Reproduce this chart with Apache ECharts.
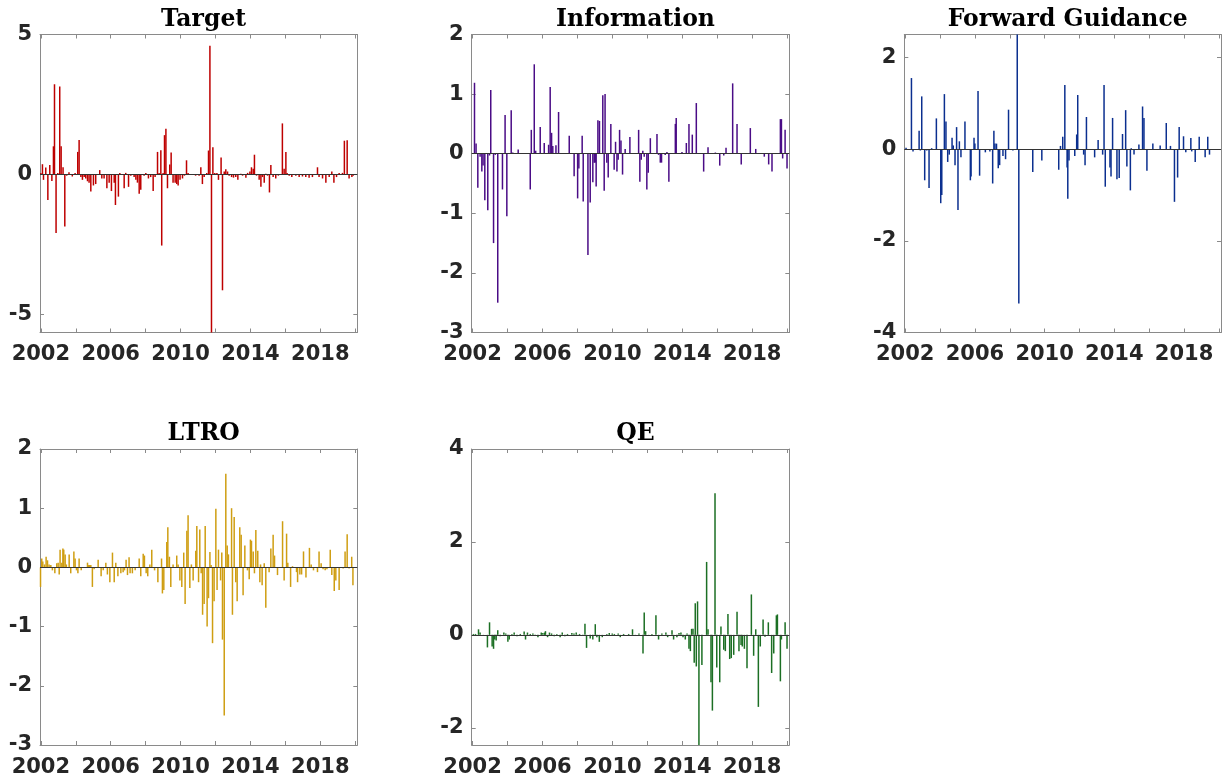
<!DOCTYPE html>
<html>
<head>
<meta charset="utf-8">
<script src="https://cdn.jsdelivr.net/npm/echarts@6/dist/echarts.min.js"></script>
</head>
<body style="margin:0;background:#fff">
<div id="main" style="width:1224px;height:783px;"></div>
<script type="text/javascript">
// shocks per meeting date, [decimal year, value]
var targetData = [
[2002.00,0.05],[2002.09,0.36],[2002.15,-0.2],[2002.28,0.24],[2002.40,-0.92],[2002.51,0.33],[2002.63,-0.24],[2002.72,1.0],[2002.78,3.22],[2002.87,-2.1],[2002.97,0.05],
[2003.08,3.14],[2003.16,1.0],[2003.27,0.25],[2003.37,-1.87],[2003.48,-0.05],[2003.61,0.07],[2003.80,-0.08],[2003.96,0.05],
[2004.11,0.8],[2004.19,1.23],[2004.29,-0.1],[2004.38,-0.2],[2004.48,-0.1],[2004.57,-0.15],[2004.67,-0.25],[2004.76,-0.3],[2004.86,-0.62],
[2005.01,-0.4],[2005.14,-0.35],[2005.37,0.15],[2005.49,-0.15],[2005.62,-0.15],[2005.78,-0.5],[2005.91,-0.3],
[2006.04,-0.6],[2006.20,-0.3],[2006.27,-1.1],[2006.44,-0.8],[2006.52,0.05],[2006.77,-0.5],[2006.86,0.05],
[2007.02,-0.45],[2007.15,-0.05],[2007.34,-0.1],[2007.44,-0.2],[2007.53,-0.3],[2007.63,-0.7],[2007.72,-0.55],[2007.91,-0.05],
[2008.01,0.05],[2008.16,-0.15],[2008.29,-0.1],[2008.43,-0.6],[2008.54,-0.1],[2008.68,0.8],[2008.77,0.05],[2008.87,0.86],[2008.92,-2.55],
[2009.00,0.05],[2009.08,1.4],[2009.16,1.63],[2009.25,-0.5],[2009.38,0.35],[2009.46,0.78],[2009.57,-0.3],[2009.69,-0.3],[2009.78,-0.35],[2009.86,-0.4],[2009.97,-0.2],
[2010.11,-0.15],[2010.22,-0.05],[2010.34,0.5],[2010.43,0.05],[2010.64,-0.02],[2010.86,-0.05],
[2011.06,-0.05],[2011.16,0.25],[2011.25,-0.35],[2011.35,-0.1],[2011.50,0.05],[2011.60,0.85],[2011.68,4.6],[2011.77,-5.66],[2011.85,0.97],[2011.96,0.05],
[2012.08,0.05],[2012.17,-0.2],[2012.32,0.6],[2012.40,-4.15],[2012.50,0.1],[2012.59,0.18],[2012.69,0.1],[2012.78,-0.05],[2012.92,-0.1],
[2013.03,-0.12],[2013.16,-0.1],[2013.28,-0.2],[2013.45,0.02],[2013.55,-0.05],[2013.74,-0.12],[2013.84,0.05],[2013.97,0.1],
[2014.06,0.25],[2014.16,0.2],[2014.23,0.7],[2014.35,-0.05],[2014.50,-0.2],[2014.60,-0.45],[2014.69,-0.1],[2014.79,-0.3],[2014.88,0.02],[2014.98,-0.05],
[2015.09,-0.65],[2015.17,0.33],[2015.30,-0.1],[2015.45,-0.15],[2015.60,-0.05],[2015.83,1.82],[2015.93,0.2],
[2016.03,0.8],[2016.10,0.05],[2016.22,-0.05],[2016.37,-0.1],[2016.60,-0.05],[2016.79,-0.1],[2016.98,-0.08],
[2017.17,-0.1],[2017.36,-0.12],[2017.55,-0.1],[2017.84,0.25],[2017.93,-0.1],
[2018.13,-0.15],[2018.32,-0.3],[2018.51,-0.1],[2018.66,0.1],[2018.78,-0.3],[2018.93,-0.1],
[2019.08,0.05],[2019.27,0.05],[2019.38,1.2],[2019.54,1.22],[2019.65,-0.15],[2019.81,-0.1],[2019.89,-0.05]
];
var infoData = [
[2002.11,1.19],[2002.20,0.17],[2002.30,-0.57],[2002.43,-0.05],[2002.53,-0.3],[2002.60,-0.2],[2002.70,-0.78],[2002.87,-0.95],[2002.97,-0.03],
[2003.04,1.07],[2003.20,-1.5],[2003.30,-0.02],[2003.44,-2.5],[2003.71,-0.6],[2003.86,0.65],[2003.96,-1.05],
[2004.21,0.73],[2004.30,0.02],[2004.61,0.07],
[2005.30,-0.6],[2005.36,0.4],[2005.53,1.5],[2005.61,0.05],[2005.87,0.45],
[2006.10,0.18],[2006.35,0.15],[2006.44,1.12],[2006.52,0.35],[2006.59,0.13],[2006.77,0.14],[2006.92,0.7],
[2007.53,0.3],[2007.62,0.01],[2007.81,-0.38],
[2008.01,-0.75],[2008.08,-0.25],[2008.27,0.3],[2008.33,-0.8],[2008.60,-1.7],[2008.73,-0.82],[2008.88,-0.48],[2008.96,-0.15],
[2009.02,-0.15],[2009.07,-0.55],[2009.17,0.56],[2009.26,0.55],[2009.45,0.98],[2009.53,-0.62],[2009.58,1.0],[2009.68,-0.15],[2009.76,-0.4],[2009.91,0.5],
[2010.10,-0.27],[2010.18,0.2],[2010.26,-0.3],[2010.33,-0.1],[2010.41,0.4],[2010.49,0.22],[2010.58,-0.35],[2010.73,0.08],
[2011.00,0.28],[2011.50,0.4],[2011.57,-0.47],[2011.65,-0.1],[2011.74,0.05],[2011.82,-0.05],[2011.97,-0.6],
[2012.05,-0.32],[2012.17,0.26],[2012.55,0.33],[2012.64,-0.02],[2012.74,-0.15],[2012.81,-0.15],
[2013.02,-0.02],[2013.12,0.03],[2013.23,-0.47],[2013.60,0.5],[2013.65,0.6],[2013.98,0.03],
[2014.23,0.18],[2014.38,0.5],[2014.57,0.32],[2014.80,0.85],
[2015.22,-0.3],[2015.47,0.11],[2015.89,0.02],
[2016.14,-0.2],[2016.37,-0.03],[2016.50,0.1],[2016.88,1.18],
[2017.13,0.5],[2017.37,-0.18],[2017.89,0.43],
[2018.20,0.08],[2018.69,-0.05],[2018.94,-0.18],
[2019.13,-0.3],[2019.61,0.58],[2019.67,0.58],[2019.74,-0.08],[2019.88,0.4],[2019.99,-0.25]
];
var fgData = [
[2002.05,0.03],[2002.36,1.55],[2002.45,-0.05],[2002.80,0.4],[2002.87,-0.03],[2002.95,1.15],
[2003.12,-0.68],[2003.24,-0.03],[2003.37,-0.85],[2003.52,0.02],[2003.79,0.67],
[2004.04,-1.18],[2004.10,-1.0],[2004.25,1.2],[2004.34,0.6],[2004.44,-0.28],[2004.53,-0.12],[2004.69,0.25],[2004.76,0.08],[2004.86,-0.35],[2004.95,0.48],
[2005.03,-1.33],[2005.11,0.17],[2005.20,-0.18],[2005.43,0.6],[2005.74,-0.68],[2005.78,-0.6],[2005.95,0.25],
[2006.00,0.12],[2006.18,1.27],[2006.27,-0.58],[2006.60,-0.07],[2006.86,-0.05],
[2007.02,-0.75],[2007.09,0.4],[2007.15,0.12],[2007.24,0.12],[2007.34,-0.42],[2007.42,-0.35],[2007.61,-0.15],[2007.76,-0.22],[2007.93,0.86],
[2008.18,-0.03],[2008.43,2.6],[2008.52,-3.37],
[2009.32,-0.5],[2009.84,-0.25],
[2010.81,-0.45],[2010.91,0.07],
[2011.04,0.27],[2011.16,1.4],[2011.29,-0.4],[2011.33,-1.08],[2011.40,-0.25],[2011.73,-0.15],[2011.84,0.32],[2011.90,1.18],
[2012.24,-0.12],[2012.32,-0.35],[2012.40,0.7],[2012.87,-0.18],
[2013.07,0.2],[2013.33,-0.12],[2013.41,1.4],[2013.48,-0.82],[2013.75,-0.4],[2013.81,-0.6],[2013.90,0.68],
[2014.15,-0.66],[2014.28,-0.63],[2014.47,0.33],[2014.65,0.85],[2014.72,-0.38],[2014.92,-0.9],[2014.97,0.02],
[2015.13,-0.12],[2015.41,0.1],[2015.62,0.93],[2015.70,0.68],[2015.87,-0.47],
[2016.21,0.12],[2016.63,0.08],[2016.69,-0.02],[2016.98,0.57],
[2017.22,0.07],[2017.45,-1.15],[2017.63,-0.62],[2017.72,0.48],[2017.97,0.28],
[2018.10,-0.07],[2018.39,0.24],[2018.44,-0.05],[2018.64,-0.28],[2018.87,0.27],
[2019.21,-0.18],[2019.36,0.27],[2019.46,-0.12]
];
var ltroData = [
[2001.98,-0.33],[2002.05,0.15],[2002.11,0.1],[2002.21,0.05],[2002.30,0.18],[2002.38,0.12],[2002.47,0.05],[2002.57,0.04],[2002.66,-0.05],[2002.80,-0.1],[2002.91,0.07],[2002.99,0.08],
[2003.05,-0.12],[2003.10,0.3],[2003.20,0.08],[2003.26,0.32],[2003.31,0.3],[2003.39,0.22],[2003.46,0.05],[2003.62,0.22],[2003.71,-0.1],[2003.89,0.27],[2003.96,0.15],
[2004.04,-0.05],[2004.12,-0.1],[2004.19,0.15],[2004.31,-0.05],[2004.67,0.08],[2004.73,0.04],[2004.80,0.04],[2004.86,0.04],[2004.95,-0.33],
[2005.05,-0.03],[2005.28,0.13],[2005.45,-0.15],[2005.57,-0.05],[2005.72,0.08],[2005.81,-0.12],[2005.95,-0.25],
[2006.10,0.25],[2006.20,-0.25],[2006.29,0.08],[2006.41,-0.15],[2006.58,-0.1],[2006.71,-0.08],[2006.79,-0.05],[2006.88,0.13],[2006.96,-0.13],
[2007.05,0.17],[2007.11,-0.1],[2007.24,-0.1],[2007.40,-0.05],[2007.63,0.15],[2007.72,-0.15],[2007.86,0.23],[2007.93,0.2],
[2008.03,-0.1],[2008.12,-0.15],[2008.24,0.05],[2008.35,0.3],[2008.51,-0.05],[2008.70,-0.25],[2008.91,0.15],[2008.96,-0.44],
[2009.04,-0.38],[2009.21,0.43],[2009.27,0.68],[2009.36,0.18],[2009.44,-0.33],[2009.57,0.05],[2009.78,0.2],[2009.86,0.05],[2009.96,-0.22],
[2010.07,-0.33],[2010.18,0.25],[2010.26,-0.62],[2010.36,0.62],[2010.43,0.88],[2010.53,-0.35],[2010.62,0.05],[2010.72,-0.22],[2010.87,0.28],[2010.93,0.7],
[2011.03,-0.25],[2011.10,0.64],[2011.18,-0.1],[2011.26,-0.8],[2011.35,-0.62],[2011.41,0.7],[2011.52,-1.0],[2011.60,-0.52],[2011.68,0.26],[2011.75,0.04],[2011.83,-1.28],[2011.92,-0.57],
[2012.02,0.99],[2012.09,-0.38],[2012.17,0.3],[2012.29,-0.22],[2012.36,0.25],[2012.40,-1.22],[2012.50,-2.5],[2012.59,1.58],[2012.67,0.37],[2012.74,0.22],[2012.92,1.0],[2012.97,-0.8],
[2013.07,0.85],[2013.16,-0.25],[2013.24,-0.57],[2013.39,0.68],[2013.47,0.55],[2013.58,-0.47],[2013.68,0.37],[2013.83,-0.05],[2013.93,-0.2],
[2014.00,0.47],[2014.06,0.45],[2014.16,0.27],[2014.23,-0.1],[2014.31,0.63],[2014.42,0.28],[2014.54,-0.25],[2014.58,0.05],[2014.67,-0.3],[2014.79,0.07],[2014.88,-0.68],
[2015.07,-0.08],[2015.17,0.32],[2015.30,0.55],[2015.38,0.2],[2015.55,-0.13],[2015.84,0.78],[2015.93,-0.22],
[2016.07,0.57],[2016.14,0.08],[2016.30,-0.33],[2016.41,0.02],[2016.64,-0.08],[2016.70,-0.25],[2016.83,-0.12],[2016.93,-0.12],
[2017.04,0.27],[2017.18,-0.17],[2017.38,0.33],[2017.48,0.05],[2017.61,-0.05],[2017.84,-0.08],[2017.93,0.27],
[2018.05,0.07],[2018.16,-0.03],[2018.28,-0.05],[2018.38,-0.03],[2018.57,0.3],[2018.66,-0.13],[2018.80,-0.4],[2018.89,-0.22],
[2019.08,-0.38],[2019.31,-0.02],[2019.42,0.27],[2019.54,0.56],[2019.65,-0.02],[2019.80,0.18],[2019.87,-0.3]
];
var qeData = [
[2002.05,0.02],[2002.17,0.02],[2002.34,0.12],[2002.43,0.05],[2002.62,-0.02],[2002.85,-0.27],[2002.97,0.27],
[2003.12,-0.25],[2003.20,-0.3],[2003.27,-0.1],[2003.35,-0.12],[2003.44,0.1],[2003.58,-0.03],[2003.79,0.05],[2003.90,0.03],
[2004.02,-0.15],[2004.10,-0.1],[2004.25,0.02],[2004.38,0.05],[2004.54,-0.03],[2004.73,0.02],[2004.95,0.07],
[2005.03,-0.1],[2005.14,0.05],[2005.30,0.02],[2005.45,0.03],[2005.58,-0.02],[2005.74,-0.05],[2005.93,0.05],
[2006.02,0.04],[2006.12,0.05],[2006.17,0.08],[2006.29,-0.05],[2006.40,0.05],[2006.52,0.03],[2006.67,-0.03],[2006.82,0.02],
[2007.01,-0.05],[2007.13,0.05],[2007.28,-0.03],[2007.43,0.02],[2007.68,0.04],[2007.80,0.03],[2007.93,0.05],
[2008.01,-0.02],[2008.12,0.02],[2008.31,0.01],[2008.43,0.24],[2008.52,-0.28],[2008.73,-0.08],[2008.88,-0.1],
[2009.02,0.23],[2009.11,-0.05],[2009.25,-0.15],[2009.42,-0.05],[2009.68,0.02],[2009.82,0.04],[2009.99,0.03],
[2010.11,0.02],[2010.33,0.03],[2010.45,-0.05],[2010.64,0.02],[2010.93,0.02],
[2011.15,0.12],[2011.31,-0.02],[2011.52,0.03],[2011.75,-0.4],[2011.82,0.48],[2011.90,0.08],
[2012.07,-0.02],[2012.26,0.02],[2012.49,0.42],[2012.64,-0.1],[2012.83,0.03],
[2013.06,0.05],[2013.16,-0.05],[2013.41,0.1],[2013.50,-0.1],[2013.69,-0.05],[2013.81,0.04],[2013.92,0.05],
[2014.04,-0.05],[2014.17,-0.1],[2014.27,0.03],[2014.38,-0.3],[2014.46,-0.35],[2014.53,0.13],[2014.61,0.13],[2014.68,-0.6],[2014.74,0.68],[2014.80,-0.68],[2014.87,0.72],[2014.95,-2.4],
[2015.12,-0.65],[2015.39,1.57],[2015.47,0.12],[2015.64,-1.02],[2015.72,-1.63],[2015.87,3.05],[2015.97,-0.7],
[2016.14,-1.02],[2016.21,0.18],[2016.37,-0.32],[2016.46,-0.35],[2016.61,0.45],[2016.71,-0.52],[2016.80,-0.5],[2016.94,-0.43],
[2017.13,0.5],[2017.24,-0.35],[2017.36,-0.22],[2017.43,-0.25],[2017.55,-0.3],[2017.70,-0.72],[2017.95,0.87],
[2018.08,-0.45],[2018.20,0.12],[2018.35,-1.55],[2018.46,-0.25],[2018.62,0.33],[2018.73,-0.04],[2018.92,0.27],
[2019.11,-0.82],[2019.23,-0.4],[2019.38,0.42],[2019.44,0.44],[2019.61,-1.0],[2019.67,-0.1],[2019.88,0.27],[2019.99,-0.3]
];

// tick labels
var xTicks = [2002, 2004, 2006, 2008, 2010, 2012, 2014, 2016, 2018, 2020];
var xLabels = [2002, 2006, 2010, 2014, 2018];
var targetTicks = [-5, 0, 5];
var infoTicks = [-3, -2, -1, 0, 1, 2];
var fgTicks = [-4, -2, 0, 2];
var ltroTicks = [-3, -2, -1, 0, 1, 2];
var qeTicks = [-2, 0, 2, 4];

var panels = [
    {title: 'Target', data: targetData, ticks: targetTicks, min: -5.66, max: 5, color: '#BE0000'},
    {title: 'Information', data: infoData, ticks: infoTicks, min: -3, max: 2, color: '#4A0C86'},
    {title: 'Forward Guidance', data: fgData, ticks: fgTicks, min: -4, max: 2.5, color: '#0B2F8F'},
    {title: 'LTRO', data: ltroData, ticks: ltroTicks, min: -3, max: 2, color: '#CF9E12'},
    {title: 'QE', data: qeData, ticks: qeTicks, min: -2.37, max: 4, color: '#1C6F24'}
];

// plot boxes
var boxes = [
    {left: 40, top: 34.5, width: 317.3, height: 298},
    {left: 471.7, top: 34.5, width: 317.6, height: 298},
    {left: 904.3, top: 34.5, width: 316.7, height: 298},
    {left: 40, top: 449, width: 317.3, height: 296},
    {left: 471.7, top: 449, width: 317.6, height: 296}
];

var boxColor = '#8a8a8a';
var labelFont = {fontFamily: 'DejaVu Sans', fontWeight: 'bold', fontSize: 21, color: '#262626'};

var myChart = echarts.init(document.getElementById('main'));
var option = {
    animation: false,
    backgroundColor: '#fff',
    title: [],
    grid: [],
    xAxis: [],
    yAxis: [],
    series: []
};

panels.forEach(function (p, i) {
    var b = boxes[i];
    option.grid.push({left: b.left, top: b.top, width: b.width, height: b.height, containLabel: false});
    option.title.push({
        text: p.title,
        left: b.left + b.width / 2,
        top: b.top - 32,
        textAlign: 'center',
        textStyle: {fontFamily: 'DejaVu Serif', fontWeight: 'bold', fontSize: 23.5, color: '#000'}
    });
    var line = {onZero: false, lineStyle: {color: boxColor, width: 1}};
    // bottom and top
    option.xAxis.push({
        type: 'value', gridIndex: i, position: 'bottom', min: 2001.95, max: 2020.12,
        axisLine: line, splitLine: {show: false},
        axisTick: {inside: true, length: 4, customValues: xTicks, lineStyle: {color: boxColor}},
        axisLabel: Object.assign({customValues: xLabels, margin: 12, formatter: function (v) { return String(v); }}, labelFont)
    });
    option.xAxis.push({
        type: 'value', gridIndex: i, position: 'top', min: 2001.95, max: 2020.12,
        axisLine: line, splitLine: {show: false},
        axisTick: {inside: true, length: 4, customValues: xTicks, lineStyle: {color: boxColor}},
        axisLabel: {show: false}
    });
    // left and right
    option.yAxis.push({
        type: 'value', gridIndex: i, position: 'left', min: p.min, max: p.max,
        axisLine: Object.assign({show: true}, line), splitLine: {show: false},
        axisTick: {show: true, inside: true, length: 4, customValues: p.ticks, lineStyle: {color: boxColor}},
        axisLabel: Object.assign({customValues: p.ticks, margin: 8}, labelFont)
    });
    option.yAxis.push({
        type: 'value', gridIndex: i, position: 'right', min: p.min, max: p.max,
        axisLine: Object.assign({show: true}, line), splitLine: {show: false},
        axisTick: {show: true, inside: true, length: 4, customValues: p.ticks, lineStyle: {color: boxColor}},
        axisLabel: {show: false}
    });
    option.series.push({
        name: p.title,
        type: 'bar',
        xAxisIndex: i * 2,
        yAxisIndex: i * 2,
        data: p.data,
        barWidth: 1.5,
        clip: true,
        itemStyle: {color: p.color},
        markLine: {
            silent: true,
            symbol: 'none',
            label: {show: false},
            lineStyle: {color: '#333', width: 1, type: 'solid'},
            data: [{yAxis: 0}]
        }
    });
});

myChart.setOption(option);
</script>
</body>
</html>
